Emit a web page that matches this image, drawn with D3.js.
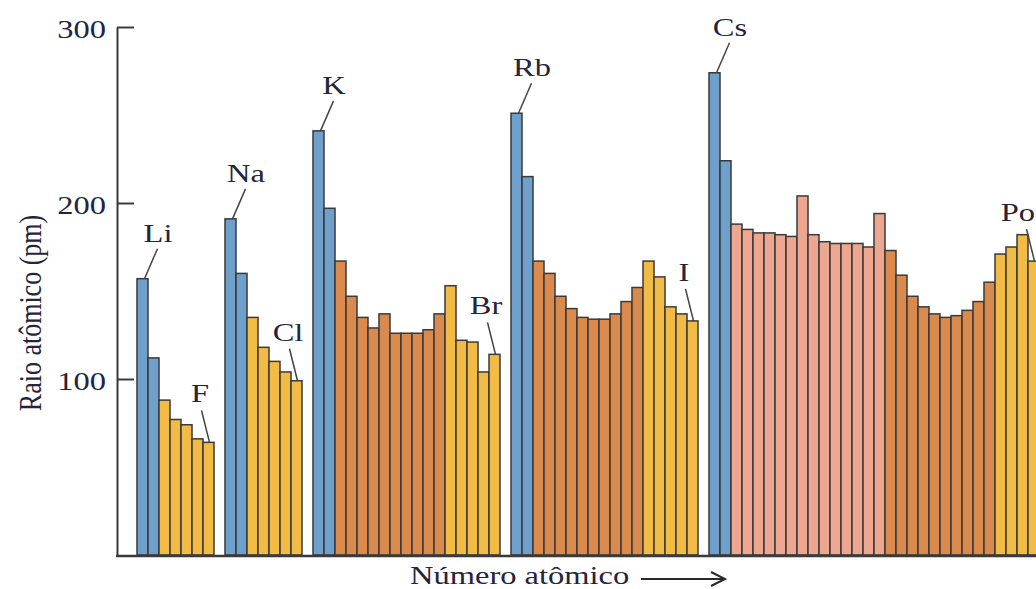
<!DOCTYPE html>
<html>
<head>
<meta charset="utf-8">
<script src="https://cdn.jsdelivr.net/npm/d3@7"></script>
<style>
  body { margin: 0; background: #fff; }
  svg { display: block; }
  text { font-family: "Liberation Serif", "Times New Roman", serif; fill: #24243a; }
</style>
</head>
<body>
<div id="wrapper"></div>
<script>
// elements in atomic-number order, noble gases kept as empty slots
const elements = [
  "Li", "Be", "B", "C", "N", "O", "F", "Ne",
  "Na", "Mg", "Al", "Si", "P", "S", "Cl", "Ar",
  "K", "Ca", "Sc", "Ti", "V", "Cr", "Mn", "Fe", "Co", "Ni", "Cu", "Zn", "Ga", "Ge", "As", "Se", "Br", "Kr",
  "Rb", "Sr", "Y", "Zr", "Nb", "Mo", "Tc", "Ru", "Rh", "Pd", "Ag", "Cd", "In", "Sn", "Sb", "Te", "I", "Xe",
  "Cs", "Ba", "La", "Ce", "Pr", "Nd", "Pm", "Sm", "Eu", "Gd", "Tb", "Dy", "Ho", "Er", "Tm", "Yb",
  "Lu", "Hf", "Ta", "W", "Re", "Os", "Ir", "Pt", "Au", "Hg", "Tl", "Pb", "Bi", "Po"
]

// atomic radius (pm)
const radii = [
  157, 112, 88, 77, 74, 66, 64, null,
  191, 160, 135, 118, 110, 104, 99, null,
  241, 197, 167, 147, 135, 129, 137, 126, 126, 126, 128, 137, 153, 122, 121, 104, 114, null,
  251, 215, 167, 160, 147, 140, 135, 134, 134, 137, 144, 152, 167, 158, 141, 137, 133, null,
  274, 224, 188, 185, 183, 183, 182, 181, 204, 182, 178, 177, 177, 177, 175, 194,
  173, 159, 147, 141, 137, 135, 136, 139, 144, 155, 171, 175, 182, 167
]

const blocks = [
  "s", "s", "p", "p", "p", "p", "p", "",
  "s", "s", "p", "p", "p", "p", "p", "",
  "s", "s", "d", "d", "d", "d", "d", "d", "d", "d", "d", "d", "p", "p", "p", "p", "p", "",
  "s", "s", "d", "d", "d", "d", "d", "d", "d", "d", "d", "d", "p", "p", "p", "p", "p", "",
  "s", "s", "f", "f", "f", "f", "f", "f", "f", "f", "f", "f", "f", "f", "f", "f",
  "d", "d", "d", "d", "d", "d", "d", "d", "d", "d", "p", "p", "p", "p"
]

const labelled = ["Li", "F", "Na", "Cl", "K", "Br", "Rb", "I", "Cs", "Po"]
const yTicks = [100, 200, 300]
const yTitle = "Raio atômico (pm)"
const xTitle = "Número atômico"

const blockColors = { s: "#6f9fcb", p: "#f2bb45", d: "#d98a4c", f: "#eda690" }

const dimensions = { width: 1036, height: 589 }
const slot = 11
const stretch = 1.25   // the type in the figure is set wide
const ink = "#3a3a3a"

const svg = d3.select("#wrapper")
  .append("svg")
    .attr("width", dimensions.width)
    .attr("height", dimensions.height)
    .style("background", "#fff")

const x = d3.scaleBand()
  .domain(elements)
  .range([137, 137 + elements.length * slot])
  .padding(0)

const y = d3.scaleLinear()
  .domain([0, 300])
  .range([555, 27])

const data = elements
  .map((el, i) => ({ el, r: radii[i], block: blocks[i] }))
  .filter(d => d.r != null)

// bars
svg.append("g")
  .selectAll("rect")
  .data(data)
  .enter().append("rect")
    .attr("x", d => x(d.el))
    .attr("y", d => y(d.r))
    .attr("width", x.bandwidth())
    .attr("height", d => y(0) - y(d.r))
    .attr("fill", d => blockColors[d.block])
    .attr("stroke", ink)
    .attr("stroke-width", 1.5)

// y axis, ticks pointing inward
const yAxis = d3.axisLeft(y)
  .tickValues(yTicks)
  .tickSizeInner(-17)
  .tickSizeOuter(0)
  .tickPadding(11)

const yAxisGroup = svg.append("g")
  .attr("transform", "translate(117,0)")
  .call(yAxis)

yAxisGroup.select(".domain").attr("stroke", ink).attr("stroke-width", 2)
yAxisGroup.selectAll(".tick line").attr("stroke", ink).attr("stroke-width", 2)
yAxisGroup.selectAll(".tick text")
  .attr("x", -11 / stretch)
  .attr("dy", "0.4em")
  .attr("transform", `scale(${stretch},1)`)
  .attr("font-family", "Liberation Serif, serif")
  .attr("font-size", 26)
  .attr("fill", "#24243a")

// baseline
svg.append("line")
  .attr("x1", 116)
  .attr("x2", dimensions.width)
  .attr("y1", y(0) + 1)
  .attr("y2", y(0) + 1)
  .attr("stroke", ink)
  .attr("stroke-width", 2.5)

// element labels with leader lines
const labels = svg.append("g")
labelled.forEach(sym => {
  const d = data.find(e => e.el === sym)
  const cx = x(d.el) + x.bandwidth() / 2
  const top = y(d.r)
  const right = d.block === "s"
  labels.append("line")
    .attr("x1", right ? cx + 2 : cx + 1)
    .attr("y1", top)
    .attr("x2", right ? cx + 15 : cx - 7)
    .attr("y2", right ? top - 30 : top - 32)
    .attr("stroke", "#454545")
    .attr("stroke-width", 1.5)
  const t = labels.append("text")
    .attr("text-anchor", "middle")
    .attr("font-size", 26)
    .text(sym)
  // keep the label inside the picture
  const half = t.node().getComputedTextLength() * stretch / 2
  const tx = Math.min(right ? cx + 15.5 : cx - 8.5, dimensions.width - half - 1)
  t.attr("transform", `translate(${tx},${right ? top - 37 : top - 40}) scale(${stretch},1)`)
})

// axis titles
svg.append("text")
  .attr("transform", `translate(41,313) scale(${stretch},1) rotate(-90)`)
  .attr("text-anchor", "middle")
  .attr("font-size", 26)
  .text(yTitle)

svg.append("text")
  .attr("transform", `translate(410,584) scale(${stretch},1)`)
  .attr("font-size", 26)
  .text(xTitle)

const arrow = svg.append("g")
  .attr("stroke", "#2a2a2a")
  .attr("stroke-width", 2)
  .attr("fill", "none")
arrow.append("line")
  .attr("x1", 641).attr("x2", 724)
  .attr("y1", 579).attr("y2", 579)
arrow.append("path")
  .attr("d", "M711,572 L725,579 L711,586")
</script>
</body>
</html>
